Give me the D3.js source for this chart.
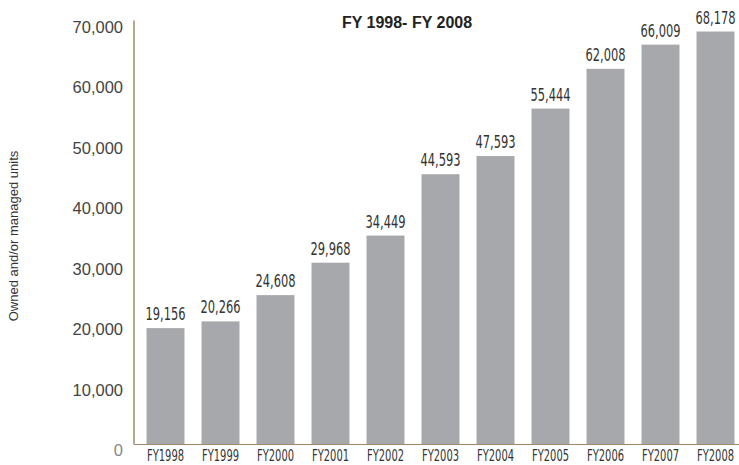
<!DOCTYPE html>
<html>
<head>
<meta charset="utf-8">
<script src="https://cdn.jsdelivr.net/npm/d3@7"></script>
<style>
  body { margin: 0; background: #fff; }
</style>
</head>
<body>
<div id="VizBox"></div>
<script>
var years = ["FY1998", "FY1999", "FY2000", "FY2001", "FY2002", "FY2003", "FY2004", "FY2005", "FY2006", "FY2007", "FY2008"];
var units = [19156, 20266, 24608, 29968, 34449, 44593, 47593, 55444, 62008, 66009, 68178];
var yTicks = [0, 10000, 20000, 30000, 40000, 50000, 60000, 70000];

var width = 739, height = 465;

var svg = d3.select("#VizBox")
  .append("svg")
    .attr("width", width)
    .attr("height", height);

// scales
var x = d3.scaleBand()
  .domain(years)
  .range([138, 743])
  .paddingInner(0.31)
  .paddingOuter(0.155);

var y = d3.scaleLinear()
  .domain([0, 70000])
  .range([444, 20.5]);

var fmt = d3.format(",");
var narrow = "'Liberation Sans Narrow', 'DejaVu Sans Condensed', 'DejaVu Sans', sans-serif";

// bars
svg.selectAll("rect.bar")
  .data(years)
  .enter()
  .append("rect")
    .attr("class", "bar")
    .attr("x", function(d) { return x(d); })
    .attr("y", function(d, i) { return y(units[i]); })
    .attr("width", x.bandwidth())
    .attr("height", function(d, i) { return y(0) - y(units[i]); })
    .attr("fill", "#a7a8ab");

// value labels (condensed look via textLength)
svg.selectAll("text.val")
  .data(years)
  .enter()
  .append("text")
    .attr("class", "val")
    .attr("x", function(d) { return x(d) + x.bandwidth() / 2; })
    .attr("y", function(d, i) { return y(units[i]) - 8; })
    .attr("text-anchor", "middle")
    .attr("textLength", 40)
    .attr("lengthAdjust", "spacingAndGlyphs")
    .style("font-family", narrow)
    .style("font-size", "18px")
    .style("fill", "#333")
    .text(function(d, i) { return fmt(units[i]); });

// axis lines
svg.append("line")
  .attr("x1", 134).attr("x2", 134)
  .attr("y1", y(70000)).attr("y2", y(0) + 0.5)
  .attr("stroke", "#a08a6a").attr("stroke-width", 1.5);
svg.append("line")
  .attr("x1", 134).attr("x2", 739)
  .attr("y1", y(0) + 0.5).attr("y2", y(0) + 0.5)
  .attr("stroke", "#a08a6a").attr("stroke-width", 1.2);

// y tick labels
svg.selectAll("text.ytick")
  .data(yTicks)
  .enter()
  .append("text")
    .attr("class", "ytick")
    .attr("x", 123)
    .attr("y", function(d) { return y(d) + 12; })
    .attr("text-anchor", "end")
    .style("font-family", "'Liberation Sans', Arial, sans-serif")
    .style("font-size", "16.5px")
    .style("fill", function(d) { return d === 0 ? "#888" : "#444"; })
    .text(function(d) { return fmt(d); });

// x labels
svg.selectAll("text.xlab")
  .data(years)
  .enter()
  .append("text")
    .attr("class", "xlab")
    .attr("x", function(d) { return x(d) + x.bandwidth() / 2; })
    .attr("y", 461)
    .attr("text-anchor", "middle")
    .attr("textLength", 37)
    .attr("lengthAdjust", "spacingAndGlyphs")
    .style("font-family", narrow)
    .style("font-size", "15px")
    .style("fill", "#333")
    .text(function(d) { return d; });

// title
svg.append("text")
  .attr("x", 407)
  .attr("y", 28)
  .attr("text-anchor", "middle")
  .style("font-family", "'Liberation Sans', Arial, sans-serif")
  .style("font-weight", "bold")
  .style("font-size", "16px")
  .style("fill", "#222")
  .text("FY 1998- FY 2008");

// y axis title
svg.append("text")
  .attr("transform", "translate(18,236) rotate(-90)")
  .attr("text-anchor", "middle")
  .style("font-family", "'Liberation Sans', Arial, sans-serif")
  .style("font-size", "13px")
  .style("fill", "#333")
  .text("Owned and/or managed units");
</script>
</body>
</html>
